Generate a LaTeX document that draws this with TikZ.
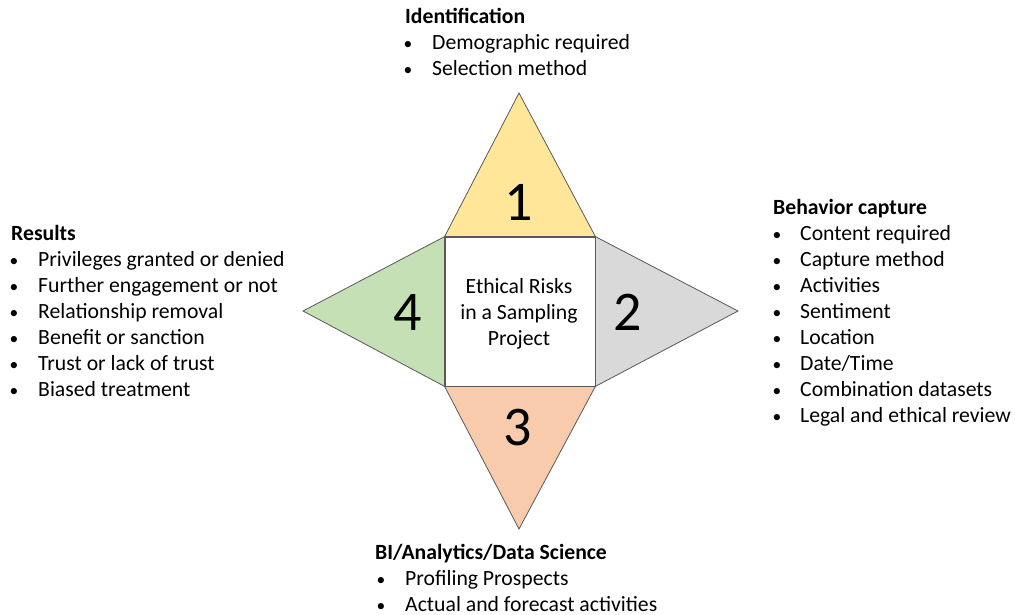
\documentclass[tikz,border=0pt]{standalone}
\usepackage{fontspec}
\setmainfont{Carlito}
\definecolor{cyel}{HTML}{FFE699}
\definecolor{cgray}{HTML}{D9D9D9}
\definecolor{corange}{HTML}{F8CBAD}
\definecolor{cgreen}{HTML}{C5E0B4}
\definecolor{cedge}{HTML}{595959}
\tikzset{
  tri/.style={draw=cedge, line width=0.8pt, line join=miter},
  head/.style={anchor=base west, inner sep=0pt, font=\fontsize{21.7}{24}\selectfont\bfseries},
  item/.style={anchor=base west, inner sep=0pt, font=\fontsize{21.7}{24}\selectfont},
  bul/.style={anchor=base, inner sep=0pt, font=\fontsize{17.5}{20}\selectfont},
  num/.style={anchor=base, inner sep=0pt, font=\fontsize{56}{60}\selectfont},
  ctr/.style={anchor=base, inner sep=0pt, font=\fontsize{21.7}{24}\selectfont},
}
\begin{document}
\begin{tikzpicture}[x=1pt,y=-1pt]
\useasboundingbox (0,0) rectangle (1015,615);
% square
\node[draw=cedge, line width=0.8pt, fill=white, minimum width=150pt, minimum height=149pt, inner sep=0pt] (sq) at (520,311.5) {};
\coordinate (apT) at (519,93);
\coordinate (apR) at (738,311);
\coordinate (apB) at (519,529);
\coordinate (apL) at (303,311);
\filldraw[tri, fill=cyel] (sq.north west) -- (apT) -- (sq.north east) -- cycle;
\filldraw[tri, fill=cgray] (sq.north east) -- (apR) -- (sq.south east) -- cycle;
\filldraw[tri, fill=corange] (sq.south west) -- (apB) -- (sq.south east) -- cycle;
\filldraw[tri, fill=cgreen] (sq.north west) -- (apL) -- (sq.south west) -- cycle;
\draw[draw=cedge, line width=0.8pt] (sq.north west) rectangle (sq.south east);
% center text
\node[ctr] (c1) at (519,293) {Ethical Risks};
\node[ctr] (c2) at (519,319) {in a Sampling};
\node[ctr] (c3) at (519,345) {Project};
% numbers
\node[num] (n1) at (519,220) {1};
\node[num] (n2) at (628,330) {2};
\node[num] (n3) at (518,445) {3};
\node[num] (n4) at (408,330) {4};
% top list
\node[head] (hT) at (405,24) {Identification};
\foreach \t [count=\i] in {Demographic required, Selection method}{
  \node[bul] (bT\i) at (408,24+26*\i) {\textbullet};
  \node[item] (iT\i) at (432,24+26*\i) {\t};
}
% right list
\node[head] (hR) at (773,214) {Behavior capture};
\foreach \t [count=\i] in {Content required, Capture method, Activities, Sentiment, Location, Date/Time, Combination datasets, Legal and ethical review}{
  \node[bul] (bR\i) at (777,214+26*\i) {\textbullet};
  \node[item] (iR\i) at (800,214+26*\i) {\t};
}
% left list
\node[head] (hL) at (11,240) {Results};
\foreach \t [count=\i] in {Privileges granted or denied, Further engagement or not, Relationship removal, Benefit or sanction, Trust or lack of trust, Biased treatment}{
  \node[bul] (bL\i) at (14,240+26*\i) {\textbullet};
  \node[item] (iL\i) at (38,240+26*\i) {\t};
}
% bottom list
\node[head] (hB) at (375,559) {BI/Analytics/Data Science};
\foreach \t [count=\i] in {Profiling Prospects, Actual and forecast activities}{
  \node[bul] (bB\i) at (381,559+26*\i) {\textbullet};
  \node[item] (iB\i) at (405,559+26*\i) {\t};
}
\end{tikzpicture}
\end{document}
